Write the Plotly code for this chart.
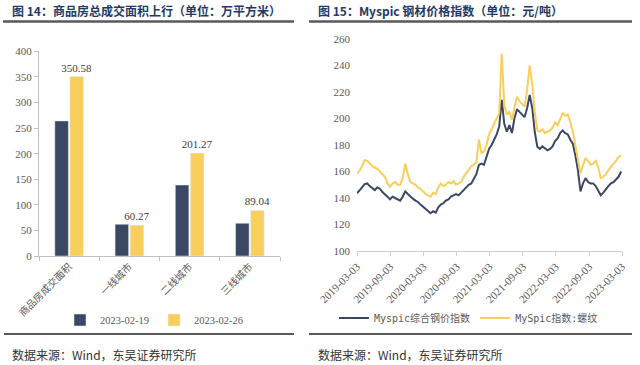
import plotly.graph_objects as go
import pandas as pd

# ---------- left chart data ----------
categories = ["商品房成交面积", "一线城市", "二线城市", "三线城市"]
area_0219 = [264.0, 62.0, 138.7, 64.0]
area_0226 = [350.58, 60.27, 201.27, 89.04]
label_0226 = ["350.58", "60.27", "201.27", "89.04"]
bar_names = ["2023-02-19", "2023-02-26"]

# ---------- right chart data ----------
dates = pd.date_range("2019-03-03", periods=105, freq="14D")
myspic_total = [143.5, 145.5, 148, 150.5, 151, 149, 147.5, 146, 148, 147,
                144.5, 143, 141, 139, 141, 140, 139, 138, 141, 145,
                143, 141, 139.5, 138, 137, 135, 133.5, 132, 130, 128.5,
                130, 129, 133, 135, 136, 138, 139, 141, 142, 143,
                142, 144, 146, 148, 150, 151, 154, 158, 165, 166,
                165, 172, 177, 180, 184, 188, 194, 214, 196, 190,
                195, 189, 200, 207, 205, 203, 201, 208, 217.7, 208,
                190, 178.7, 177, 179, 177.5, 176, 177, 179, 183, 185,
                189, 191, 189, 188, 184, 181, 172, 161, 145, 151,
                155, 152, 151, 151, 149, 146, 142, 144, 147, 149,
                151, 152, 154, 156, 160]
myspic_rebar = [158.6, 160.5, 164, 168.5, 168, 166.5, 164, 163, 162, 160,
                158, 156, 151, 148.5, 151, 152, 150, 150, 155, 166,
                158, 152, 151, 150, 148, 147, 145, 143, 142, 141,
                144, 143, 148, 151, 149, 150, 152, 151, 153, 150,
                151, 152, 156, 159, 162, 164, 165, 167, 184, 174,
                175, 180, 188, 192, 196, 199, 204, 249, 210, 203,
                205, 199, 208, 216.5, 213, 211, 209, 222, 240, 226,
                205, 191, 190, 192, 189, 190, 191, 193, 197, 195,
                200, 204, 202, 203, 197, 190, 180, 168.7, 158.6, 165,
                170, 168, 165, 166, 168, 163, 155, 156, 158, 161,
                164, 166, 168, 171, 172]
line_names = ["Myspic综合钢价指数", "MySpic指数:螺纹"]
tick_dates = ["2019-03-03", "2019-09-03", "2020-03-03", "2020-09-03", "2021-03-03",
              "2021-09-03", "2022-03-03", "2022-09-03", "2023-03-03"]

DARK = "#3a4864"
YELLOW = "#f8cf5c"
GRAY = "#595959"
W, H = 640, 365


def px(x):
    return x / W


def py(y):
    return 1 - y / H


fig = go.Figure()

fig.add_trace(go.Bar(x=categories, y=area_0219, name=bar_names[0], marker_color=DARK,
                     xaxis="x", yaxis="y", legend="legend"))
fig.add_trace(go.Bar(x=categories, y=area_0226, name=bar_names[1], marker_color=YELLOW,
                     text=label_0226, textposition="outside", cliponaxis=False,
                     textfont=dict(family="Liberation Serif", size=11, color="#404040"),
                     xaxis="x", yaxis="y", legend="legend"))

fig.add_trace(go.Scatter(x=dates, y=myspic_total, name=line_names[0], mode="lines",
                         line=dict(color=DARK, width=2), xaxis="x2", yaxis="y2", legend="legend2"))
fig.add_trace(go.Scatter(x=dates, y=myspic_rebar, name=line_names[1], mode="lines",
                         line=dict(color=YELLOW, width=2), xaxis="x2", yaxis="y2", legend="legend2"))

tickfont = dict(family="Liberation Serif", size=11, color=GRAY)

fig.update_layout(
    width=W, height=H,
    margin=dict(l=0, r=0, t=0, b=0, autoexpand=False),
    paper_bgcolor="white", plot_bgcolor="white",
    barmode="group", bargap=0.5, bargroupgap=0.1,
    uniformtext=dict(minsize=11, mode="show"),
    font=dict(family="Noto Sans CJK SC", color=GRAY),
    xaxis=dict(domain=[px(39), px(280)], anchor="y", showgrid=False, automargin=False,
               range=[-0.5, 3.5],
               showline=True, linecolor="#bfbfbf", linewidth=1,
               ticks="outside", tickson="boundaries", ticklen=4, tickcolor="#bfbfbf",
               tickangle=-45, tickfont=dict(family="Noto Sans CJK SC", size=10, color=GRAY)),
    yaxis=dict(domain=[py(256), py(51.3)], anchor="x", range=[0, 400], dtick=50,
               automargin=False,
               showgrid=False, zeroline=False, showline=True, linecolor="#bfbfbf",
               ticks="outside", ticklen=4, tickcolor="#bfbfbf", tickfont=tickfont),
    xaxis2=dict(domain=[px(357), px(622)], anchor="y2", type="date", automargin=False,
                range=["2019-03-03", "2023-03-03"], showgrid=False,
                showline=True, linecolor="#d0d0d0", linewidth=1,
                ticks="outside", ticklen=4, tickcolor="#d0d0d0",
                tickmode="array", tickvals=tick_dates, ticktext=tick_dates,
                tickangle=-45, tickfont=tickfont),
    yaxis2=dict(domain=[py(251), py(39)], anchor="x2", range=[100, 260], dtick=20,
                automargin=False,
                showgrid=False, zeroline=False, showline=False, tickfont=tickfont,
                ticklabelstandoff=6),
    legend=dict(orientation="h", x=px(60), y=py(320), xanchor="left", yanchor="middle",
                font=dict(family="Liberation Serif", size=10.5, color=GRAY),
                itemwidth=30, tracegroupgap=0, bgcolor="rgba(0,0,0,0)"),
    legend2=dict(orientation="h", x=px(334), y=py(318), xanchor="left", yanchor="middle",
                 font=dict(family="DejaVu Sans Mono, Noto Sans CJK SC", size=10, color=GRAY),
                 itemwidth=30, bgcolor="rgba(0,0,0,0)"),
    showlegend=True,
)

shapes = []
# title underlines
shapes.append(dict(type="line", xref="paper", yref="paper", x0=px(3), x1=px(294),
                   y0=py(21.5), y1=py(21.5), line=dict(color="#595959", width=2.5)))
shapes.append(dict(type="line", xref="paper", yref="paper", x0=px(309), x1=px(632),
                   y0=py(21.5), y1=py(21.5), line=dict(color="#595959", width=2.5)))
# bottom separators
shapes.append(dict(type="line", xref="paper", yref="paper", x0=px(4), x1=px(294),
                   y0=py(334), y1=py(334), line=dict(color="#222222", width=1.5)))
shapes.append(dict(type="line", xref="paper", yref="paper", x0=px(309), x1=px(632),
                   y0=py(334), y1=py(334), line=dict(color="#222222", width=1.5)))
fig.update_layout(shapes=shapes)

title_font = dict(family="Noto Sans CJK SC", size=12, color="#1f3a66")
src_font = dict(family="Noto Sans CJK SC", size=12, color="#333333")
fig.add_annotation(xref="paper", yref="paper", x=px(10), y=py(10), xanchor="left", yanchor="middle",
                   text="<b>图 14：商品房总成交面积上行（单位：万平方米）</b>", showarrow=False, font=title_font)
fig.add_annotation(xref="paper", yref="paper", x=px(316), y=py(10), xanchor="left", yanchor="middle",
                   text="<b>图 15：Myspic 钢材价格指数（单位：元/吨）</b>", showarrow=False, font=title_font)
fig.add_annotation(xref="paper", yref="paper", x=px(10), y=py(354), xanchor="left", yanchor="middle",
                   text="数据来源：Wind，东吴证券研究所", showarrow=False, font=src_font)
fig.add_annotation(xref="paper", yref="paper", x=px(316), y=py(354), xanchor="left", yanchor="middle",
                   text="数据来源：Wind，东吴证券研究所", showarrow=False, font=src_font)

fig.write_html("out.html", config={"displayModeBar": False},
               post_script="document.body.style.margin='0';document.body.style.padding='0';")
